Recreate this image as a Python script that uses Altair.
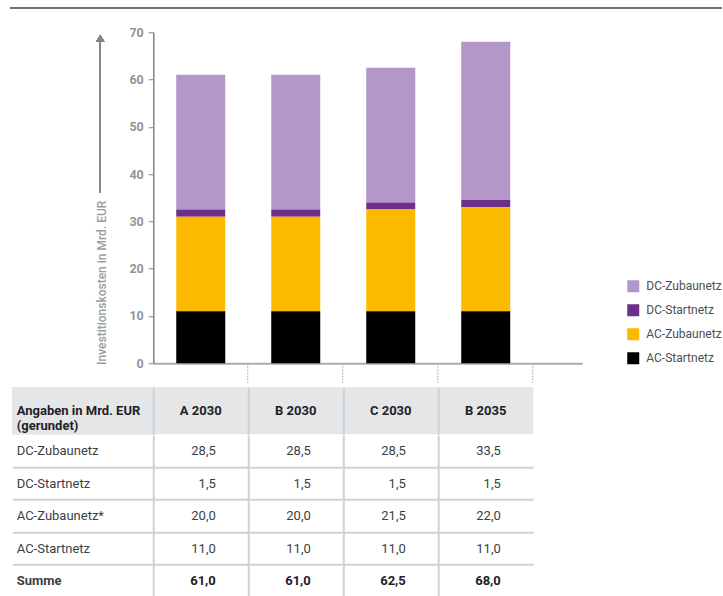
import json
import altair as alt
import pandas as pd

# Investment costs per scenario (bn EUR, rounded)
scenarios = ["A 2030", "B 2030", "C 2030", "B 2035"]
components = ["DC-Zubaunetz", "DC-Startnetz", "AC-Zubaunetz", "AC-Startnetz"]
dc_zubau = [28.5, 28.5, 28.5, 33.5]
dc_start = [1.5, 1.5, 1.5, 1.5]
ac_zubau = [20.0, 20.0, 21.5, 22.0]
ac_start = [11.0, 11.0, 11.0, 11.0]
colors = ["#b397c8", "#6e2f8c", "#fbba00", "#000000"]

row_labels = ["DC-Zubaunetz", "DC-Startnetz", "AC-Zubaunetz*", "AC-Startnetz", "Summe"]
head_lines = ["Angaben in Mrd. EUR", "(gerundet)"]
y_title = "Investitionskosten in Mrd. EUR"

FONT = "Roboto"
HEAD_BG = "#e4e6e8"
LINE = "#cfd2d5"
AXIS_GREY = "#8e959b"
LABEL_COL_W = 141   # width of the row-label column left of the value columns
HEAD_H = 47         # height of the table header row

series = [dc_zubau, dc_start, ac_zubau, ac_start]

# long table for the stacked bars
bar_rows = []
for comp, vals in zip(components, series):
    for sc, v in zip(scenarios, vals):
        bar_rows.append({"Szenario": sc, "Netz": comp, "Wert": v,
                         "Stapel": len(components) - components.index(comp)})
bar_df = pd.DataFrame(bar_rows)

# table cells
def fmt(v):
    return f"{v:.1f}".replace(".", ",")

totals = [sum(t) for t in zip(*series)]
cell_rows = []
for label, vals in zip(row_labels, series + [totals]):
    for sc, v in zip(scenarios, vals):
        cell_rows.append({"Szenario": sc, "Zeile": label, "Text": fmt(v)})
cell_df = pd.DataFrame(cell_rows)

head_df = pd.DataFrame({"Szenario": scenarios, "Kopf": [" ".join(head_lines)] * 4})

# ---------- stacked bar chart ----------
bars = alt.Chart(bar_df).mark_bar(size=49).encode(
    x=alt.X("Szenario:N", sort=scenarios,
            scale=alt.Scale(paddingInner=0, paddingOuter=0.258, align=0),
            axis=alt.Axis(title=None, labels=False, ticks=True, tickSize=19,
                          bandPosition=1, tickDash=[1.5, 1.5], tickColor="#9aa0a6",
                          tickWidth=1, domainColor="#a9adb1", domainWidth=2)),
    y=alt.Y("Wert:Q", stack="zero", scale=alt.Scale(domain=[0, 70]),
            axis=alt.Axis(values=list(range(0, 71, 10)), title=y_title, grid=False,
                          domainColor="#7d848a", domainWidth=1.5, tickColor="#7d848a",
                          tickSize=5, labelColor=AXIS_GREY, labelFontWeight="bold",
                          labelFontSize=12.5, labelPadding=5, titleColor="#979da3",
                          titleFontSize=12, titleFontWeight=500, titleX=-52,
                          titleY=250, titleBaseline="middle")),
    color=alt.Color("Netz:N", scale=alt.Scale(domain=components, range=colors),
                    legend=alt.Legend(title=None, orient="none", legendX=474, legendY=248,
                                      symbolType="square", symbolSize=144,
                                      symbolStrokeWidth=0, labelFontSize=12,
                                      labelColor="#4a4f54", rowPadding=12, labelOffset=7)),
    order=alt.Order("Stapel:Q"),
)

arrow_line = alt.Chart(bar_df).mark_rule(color="#80878d", strokeWidth=1.5).encode(
    x=alt.value(-53), y=alt.value(160), y2=alt.value(9)
)
arrow_head = alt.Chart(bar_df).mark_point(shape="triangle-up", filled=True, size=70,
                                          color="#80878d", opacity=1).encode(
    x=alt.value(-53), y=alt.value(6)
)
top_line = alt.Chart(bar_df).mark_rule(color="#6d747a", strokeWidth=1.5).encode(
    x=alt.value(-143), x2=alt.value(568), y=alt.value(-24)
)

top = alt.layer(bars, arrow_line, arrow_head, top_line).properties(width=429, height=331)

# ---------- table header ----------
x_table = alt.X("Szenario:N", sort=scenarios,
                scale=alt.Scale(type="band", paddingInner=0, paddingOuter=0),
                axis=alt.Axis(title=None, labels=False, ticks=False, domain=False,
                              grid=True, gridColor=LINE, gridWidth=2, bandPosition=0,
                              zindex=1))

y_head = alt.Y("Kopf:N", scale=alt.Scale(type="band", paddingInner=0, paddingOuter=0),
               axis=alt.Axis(title=None, domain=False, ticks=False,
                             labelAlign="left", labelPadding=LABEL_COL_W - 4,
                             labelExpr=json.dumps(head_lines), labelFontWeight="bold",
                             labelFontSize=13, labelColor="#1e2226", labelLineHeight=15))

head_label_bg = alt.Chart(head_df).mark_rect(color=HEAD_BG).encode(
    x=alt.value(-LABEL_COL_W), x2=alt.value(0), y=alt.value(0), y2=alt.value(HEAD_H)
)
head_bg = alt.Chart(head_df).mark_rect(color=HEAD_BG).encode(x=x_table, y=y_head)
head_text = alt.Chart(head_df).mark_text(fontWeight="bold", fontSize=13,
                                         color="#1e2226").encode(
    x=x_table, y=y_head, text="Szenario:N"
)
header = alt.layer(head_label_bg, head_bg, head_text).properties(width=380, height=HEAD_H)

# ---------- table body ----------
first_row = f"datum.value == '{row_labels[0]}'"
y_body = alt.Y("Zeile:N", sort=row_labels,
               scale=alt.Scale(type="band", paddingInner=0, paddingOuter=0),
               axis=alt.Axis(title=None, domain=False, tickSize=LABEL_COL_W, tickWidth=2,
                             tickColor=alt.condition(first_row, alt.value("transparent"),
                                                     alt.value(LINE)),
                             bandPosition=0, grid=True,
                             gridColor=alt.condition(first_row, alt.value("transparent"),
                                                     alt.value(LINE)),
                             gridWidth=2, labelAlign="left", labelPadding=-4,
                             labelFontSize=13, labelColor="#3a3f44",
                             labelFontWeight=alt.condition("datum.value == 'Summe'",
                                                           alt.value("bold"),
                                                           alt.value("normal"))))

body_plain = alt.Chart(cell_df).transform_filter("datum.Zeile != 'Summe'").mark_text(
    align="right", dx=15, fontSize=13, color="#3a3f44"
).encode(x=x_table, y=y_body, text="Text:N")
body_sum = alt.Chart(cell_df).transform_filter("datum.Zeile == 'Summe'").mark_text(
    align="right", dx=15, fontSize=13, fontWeight="bold", color="#1e2226"
).encode(x=x_table, y=y_body, text="Text:N")
body = alt.layer(body_plain, body_sum).properties(width=380, height=162)

table = alt.vconcat(header, body, spacing=0).resolve_scale(y="independent")

chart = alt.vconcat(top, table, spacing=4).resolve_scale(
    x="independent", y="independent", color="independent"
).properties(
    padding={"left": 9.25, "top": 7.25, "right": 0, "bottom": 0}
).configure(font=FONT).configure_view(stroke=None)

chart.save("out.html", embed_options={"renderer": "svg", "actions": False})
